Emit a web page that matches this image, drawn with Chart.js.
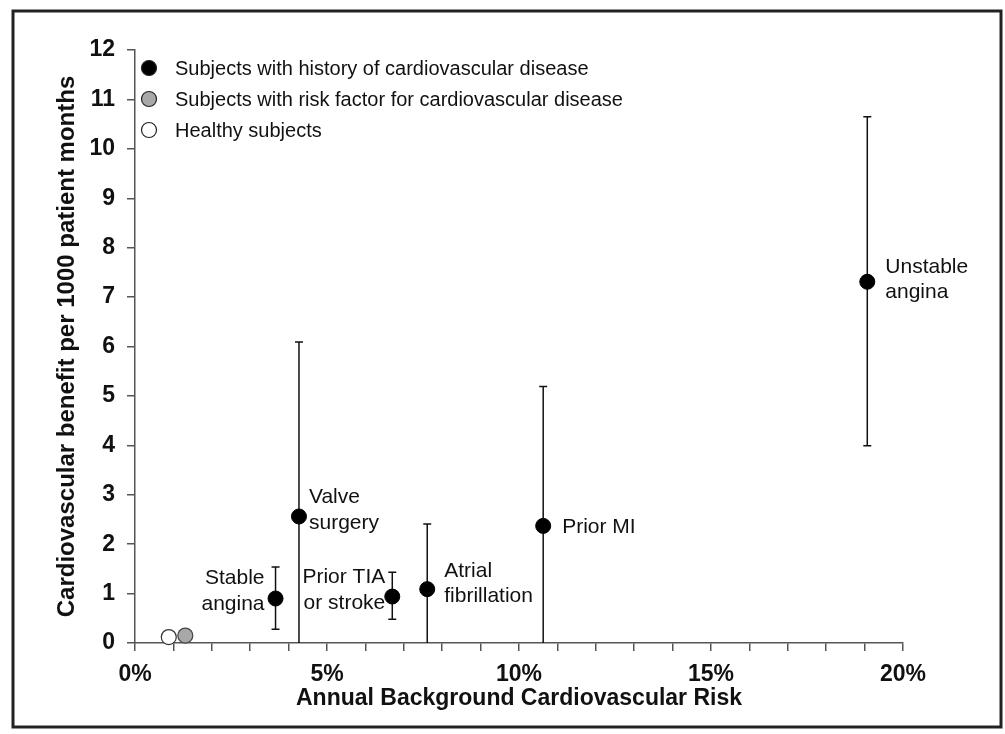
<!DOCTYPE html>
<html>
<head>
<meta charset="utf-8">
<title>Cardiovascular benefit vs background risk</title>
<script src="https://cdn.jsdelivr.net/npm/chart.js@4.4.1/dist/chart.umd.min.js"></script>
<style>
  html, body { margin: 0; padding: 0; background: #fff; }
  #wrap { width: 1005px; height: 734px; }
</style>
</head>
<body>
<div id="wrap"><canvas id="chart" width="1005" height="734"></canvas></div>
<script>
// data (x = annual risk in %, y = benefit per 1000 patient months)
const historyNames = [['Stable', 'angina'], ['Valve', 'surgery'], ['Prior TIA', 'or stroke'],
                      ['Atrial', 'fibrillation'], ['Prior MI'], ['Unstable', 'angina']];
const historyRisk = [3.66, 4.27, 6.70, 7.61, 10.63, 19.07];
const historyBenefit = [0.90, 2.56, 0.94, 1.09, 2.37, 7.31];
const historyLow = [0.28, 0, 0.48, 0, 0, 3.99];
const historyHigh = [1.54, 6.09, 1.43, 2.41, 5.19, 10.65];

const riskFactorRisk = [1.31];
const riskFactorBenefit = [0.15];

const healthyRisk = [0.88];
const healthyBenefit = [0.12];

const seriesNames = ['Subjects with history of cardiovascular disease',
                     'Subjects with risk factor for cardiovascular disease',
                     'Healthy subjects'];

const FONT = "'Liberation Sans', Arial, sans-serif";
Chart.defaults.font.family = FONT;
Chart.defaults.color = '#111';

function pts(xs, ys) { return xs.map((x, i) => ({ x: x, y: ys[i] })); }

// label placement next to each point: side, dx, dy of first line
const labelPlace = [
  { align: 'right', dx: -11, dy: -20 },
  { align: 'left', dx: 10, dy: -19 },
  { align: 'right', dx: -7, dy: -19 },
  { align: 'left', dx: 17, dy: -18 },
  { align: 'left', dx: 19, dy: 1 },
  { align: 'left', dx: 18, dy: -15 }
];

const extras = {
  id: 'extras',
  beforeDraw(chart) {
    const ctx = chart.ctx;
    ctx.save();
    ctx.strokeStyle = '#222';
    ctx.lineWidth = 3;
    ctx.strokeRect(13, 11, 988, 716);
    ctx.restore();
  },
  beforeDatasetsDraw(chart) {
    const ctx = chart.ctx, xs = chart.scales.x, ys = chart.scales.y;
    ctx.save();
    ctx.strokeStyle = '#111';
    ctx.lineWidth = 1.5;
    historyRisk.forEach((r, i) => {
      const px = xs.getPixelForValue(r);
      const top = ys.getPixelForValue(historyHigh[i]);
      const bot = ys.getPixelForValue(historyLow[i]);
      ctx.beginPath();
      ctx.moveTo(px, top); ctx.lineTo(px, bot);
      ctx.moveTo(px - 4, top); ctx.lineTo(px + 4, top);
      if (historyLow[i] > 0) { ctx.moveTo(px - 4, bot); ctx.lineTo(px + 4, bot); }
      ctx.stroke();
    });
    ctx.restore();
  },
  afterDatasetsDraw(chart) {
    const ctx = chart.ctx, xs = chart.scales.x, ys = chart.scales.y;
    ctx.save();
    ctx.fillStyle = '#111';
    ctx.font = '21px ' + FONT;
    ctx.textBaseline = 'middle';
    historyNames.forEach((lines, i) => {
      const p = labelPlace[i];
      const px = xs.getPixelForValue(historyRisk[i]) + p.dx;
      const py = ys.getPixelForValue(historyBenefit[i]) + p.dy;
      ctx.textAlign = p.align;
      lines.forEach((t, k) => ctx.fillText(t, px, py + k * 25.5));
    });

    // legend in the top-left corner of the plot
    ctx.font = '20px ' + FONT;
    const fills = ['#000', '#a8a8a8', '#fff'];
    const rows = [68, 99, 130];
    rows.forEach((y, k) => {
      ctx.beginPath();
      ctx.arc(149, y, 7.5, 0, Math.PI * 2);
      ctx.fillStyle = fills[k];
      ctx.fill();
      ctx.lineWidth = 1.2;
      ctx.strokeStyle = '#222';
      ctx.stroke();
      ctx.fillStyle = '#111';
      ctx.textAlign = 'left';
      ctx.fillText(seriesNames[k], 175, y + 1);
    });
    ctx.restore();
  }
};

new Chart(document.getElementById('chart'), {
  type: 'scatter',
  data: {
    datasets: [
      {
        label: seriesNames[0],
        data: pts(historyRisk, historyBenefit),
        pointRadius: 7.5,
        pointBackgroundColor: '#000',
        pointBorderColor: '#000',
        pointBorderWidth: 1,
        clip: false
      },
      {
        label: seriesNames[1],
        data: pts(riskFactorRisk, riskFactorBenefit),
        pointRadius: 7.5,
        pointBackgroundColor: '#a8a8a8',
        pointBorderColor: '#444',
        pointBorderWidth: 1.2,
        clip: false
      },
      {
        label: seriesNames[2],
        data: pts(healthyRisk, healthyBenefit),
        pointRadius: 7.5,
        pointBackgroundColor: '#fff',
        pointBorderColor: '#333',
        pointBorderWidth: 1.2,
        clip: false
      }
    ]
  },
  options: {
    responsive: false,
    animation: false,
    layout: { padding: { left: 50, top: 50, right: 102, bottom: 22 } },
    plugins: { legend: { display: false }, tooltip: { enabled: false } },
    scales: {
      x: {
        type: 'linear', min: 0, max: 20,
        afterFit(s) { s.height = 69; },
        ticks: {
          stepSize: 1, autoSkip: false, maxRotation: 0, padding: 10,
          font: { size: 23, weight: 'bold' }, color: '#111',
          callback: v => (v % 5 === 0 ? v + '%' : '')
        },
        grid: { drawOnChartArea: false, tickLength: 8, color: '#555', lineWidth: 1.5 },
        border: { color: '#555', width: 1.5 },
        title: {
          display: true, text: 'Annual Background Cardiovascular Risk',
          font: { size: 23, weight: 'bold' }, color: '#111', padding: { top: 0, bottom: 0 }
        }
      },
      y: {
        type: 'linear', min: 0, max: 12,
        afterFit(s) { s.width = 85; },
        ticks: {
          stepSize: 1, padding: 12,
          font: { size: 23, weight: 'bold' }, color: '#111'
        },
        grid: { drawOnChartArea: false, tickLength: 8, color: '#555', lineWidth: 1.5 },
        border: { color: '#555', width: 1.5 },
        title: {
          display: true, text: 'Cardiovascular benefit per 1000 patient months',
          font: { size: 24, weight: 'bold' }, color: '#111', padding: { top: 3, bottom: 0 }
        }
      }
    }
  },
  plugins: [extras]
});
</script>
</body>
</html>
